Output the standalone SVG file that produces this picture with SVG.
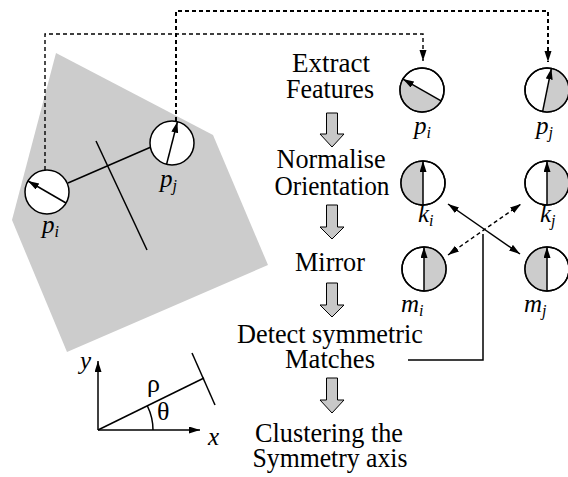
<svg xmlns="http://www.w3.org/2000/svg" width="568" height="477" viewBox="0 0 568 477">
<style>
.t{font-family:"Liberation Serif","Times New Roman",serif;font-size:26.5px;fill:#000;text-anchor:middle}
.l{font-family:"Liberation Serif","Times New Roman",serif;font-style:italic;font-size:25px;fill:#000}
.s{font-size:16px}
.g{font-family:"Liberation Serif","Times New Roman",serif;font-size:26px;fill:#000}
.c{fill:#fff;stroke:#000;stroke-width:1.5}
.o{fill:none;stroke:#000;stroke-width:1.5}
.h{fill:#cccccc;stroke:none}
.ln{fill:none;stroke:#000;stroke-width:1.5}
.blk{fill:#c8c8c8;stroke:#000;stroke-width:1}
.d1{fill:none;stroke:#000;stroke-width:1.4;stroke-dasharray:4 3}
.d2{fill:none;stroke:#000;stroke-width:2;stroke-dasharray:4 3}
</style>
<defs>
<marker id="ah" markerUnits="userSpaceOnUse" markerWidth="12" markerHeight="8" refX="11" refY="3.5" orient="auto"><path d="M0,0 L11,3.5 L0,7 Z" fill="#000" stroke="none"/></marker>
<marker id="ahs" markerUnits="userSpaceOnUse" markerWidth="12" markerHeight="8" refX="11" refY="3.5" orient="auto-start-reverse"><path d="M0,0 L11,3.5 L0,7 Z" fill="#000" stroke="none"/></marker>
</defs>
<g id="shape"><polygon points="56,53 213,135 268,265 67,352 12,220" fill="#cccccc"/></g>
<g id="scene">
<line class="ln" x1="68" y1="183" x2="151" y2="147"/>
<line class="ln" x1="96" y1="141" x2="147" y2="250"/>
</g>
<g id="node-pi-scene"><circle class="c" cx="47" cy="192" r="22"/><line class="ln" x1="66" y1="203" x2="28" y2="181" marker-end="url(#ah)"/><text class="l" x="42" y="233">p<tspan class="s" dy="4">i</tspan></text></g>
<g id="node-pj-scene"><circle class="c" cx="172" cy="143" r="22"/><line class="ln" x1="166.6" y1="164.3" x2="177.4" y2="121.7" marker-end="url(#ah)"/><text class="l" x="160" y="187">p<tspan class="s" dy="4">j</tspan></text></g>
<g id="node-pi"><circle class="c" cx="422" cy="90" r="22"/><path class="h" d="M441.1,100.9 A22 22 0 0 1 402.9,79.1 Z"/><circle class="o" cx="422" cy="90" r="22"/><line class="ln" x1="441.1" y1="100.9" x2="402.9" y2="79.1" marker-end="url(#ah)"/><text class="l" x="414" y="134">p<tspan class="s" dy="4">i</tspan></text></g>
<g id="node-pj"><circle class="c" cx="547" cy="90" r="22"/><path class="h" d="M551.4,68.4 A22 22 0 0 1 542.6,111.6 Z"/><circle class="o" cx="547" cy="90" r="22"/><line class="ln" x1="542.6" y1="111.6" x2="551.4" y2="68.4" marker-end="url(#ah)"/><text class="l" x="536" y="134">p<tspan class="s" dy="4">j</tspan></text></g>
<g id="node-ki"><circle class="c" cx="423" cy="183" r="22"/><path class="h" d="M423,205 A22 22 0 0 1 423,161 Z"/><circle class="o" cx="423" cy="183" r="22"/><line class="ln" x1="423" y1="205" x2="423" y2="161" marker-end="url(#ah)"/><text class="l" x="418" y="222">k<tspan class="s" dy="4">i</tspan></text></g>
<g id="node-kj"><circle class="c" cx="547" cy="183" r="22"/><path class="h" d="M547,161 A22 22 0 0 1 547,205 Z"/><circle class="o" cx="547" cy="183" r="22"/><line class="ln" x1="547" y1="205" x2="547" y2="161" marker-end="url(#ah)"/><text class="l" x="540" y="222">k<tspan class="s" dy="4">j</tspan></text></g>
<g id="node-mi"><circle class="c" cx="424" cy="269" r="22"/><path class="h" d="M424,247 A22 22 0 0 1 424,291 Z"/><circle class="o" cx="424" cy="269" r="22"/><line class="ln" x1="424" y1="291" x2="424" y2="247" marker-end="url(#ah)"/><text class="l" x="401" y="312">m<tspan class="s" dy="4">i</tspan></text></g>
<g id="node-mj"><circle class="c" cx="547" cy="269" r="22"/><path class="h" d="M547,291 A22 22 0 0 1 547,247 Z"/><circle class="o" cx="547" cy="269" r="22"/><line class="ln" x1="547" y1="291" x2="547" y2="247" marker-end="url(#ah)"/><text class="l" x="524" y="312">m<tspan class="s" dy="4">j</tspan></text></g>
<g id="step-extract"><text class="t" x="331" y="72" textLength="78" lengthAdjust="spacingAndGlyphs">Extract</text><text class="t" x="330" y="98" textLength="88" lengthAdjust="spacingAndGlyphs">Features</text></g>
<g id="step-normalise"><text class="t" x="331" y="168" textLength="109" lengthAdjust="spacingAndGlyphs">Normalise</text><text class="t" x="332" y="195" textLength="115" lengthAdjust="spacingAndGlyphs">Orientation</text></g>
<g id="step-mirror"><text class="t" x="330" y="271" textLength="70" lengthAdjust="spacingAndGlyphs">Mirror</text></g>
<g id="step-detect"><text class="t" x="330" y="343" textLength="186" lengthAdjust="spacingAndGlyphs">Detect symmetric</text><text class="t" x="330" y="368" textLength="90" lengthAdjust="spacingAndGlyphs">Matches</text></g>
<g id="step-cluster"><text class="t" x="329" y="442" textLength="148" lengthAdjust="spacingAndGlyphs">Clustering the</text><text class="t" x="330" y="467" textLength="155" lengthAdjust="spacingAndGlyphs">Symmetry axis</text></g>
<g id="connectors">
<path class="blk" d="M326.5,113 H337.5 V134 H344 L332,147 L320,134 H326.5 Z"/>
<path class="blk" d="M326.5,205 H337.5 V227 H344 L332,239 L320,227 H326.5 Z"/>
<path class="blk" d="M326.5,283 H337.5 V305 H344 L332,317 L320,305 H326.5 Z"/>
<path class="blk" d="M326.5,378 H337.5 V400 H344 L332,413 L320,400 H326.5 Z"/>
<path class="d1" d="M45,170 V34 H423 V61" marker-end="url(#ah)"/>
<path class="d2" d="M176,121 V11 H548 V62" marker-end="url(#ah)"/>
<line class="ln" x1="448" y1="204" x2="520" y2="254" marker-start="url(#ahs)" marker-end="url(#ahs)"/>
<line class="d1" x1="448" y1="255" x2="521" y2="204" marker-start="url(#ahs)" marker-end="url(#ahs)"/>
<path class="ln" d="M483,234 V360 H408"/>
</g>
<g id="axes">
<line class="ln" x1="98" y1="430" x2="98" y2="361" marker-end="url(#ah)"/>
<line class="ln" x1="98" y1="430" x2="200" y2="430" marker-end="url(#ah)"/>
<line class="ln" x1="98" y1="430" x2="204" y2="378"/>
<line class="ln" x1="192" y1="353" x2="215" y2="405"/>
<path class="ln" d="M153,430 A55 55 0 0 0 147.4,406"/>
<text class="l" x="80" y="369">y</text>
<text class="g" x="147" y="392">ρ</text>
<text class="g" x="157" y="420">θ</text>
<text class="l" x="208" y="445">x</text>
</g>
</svg>
